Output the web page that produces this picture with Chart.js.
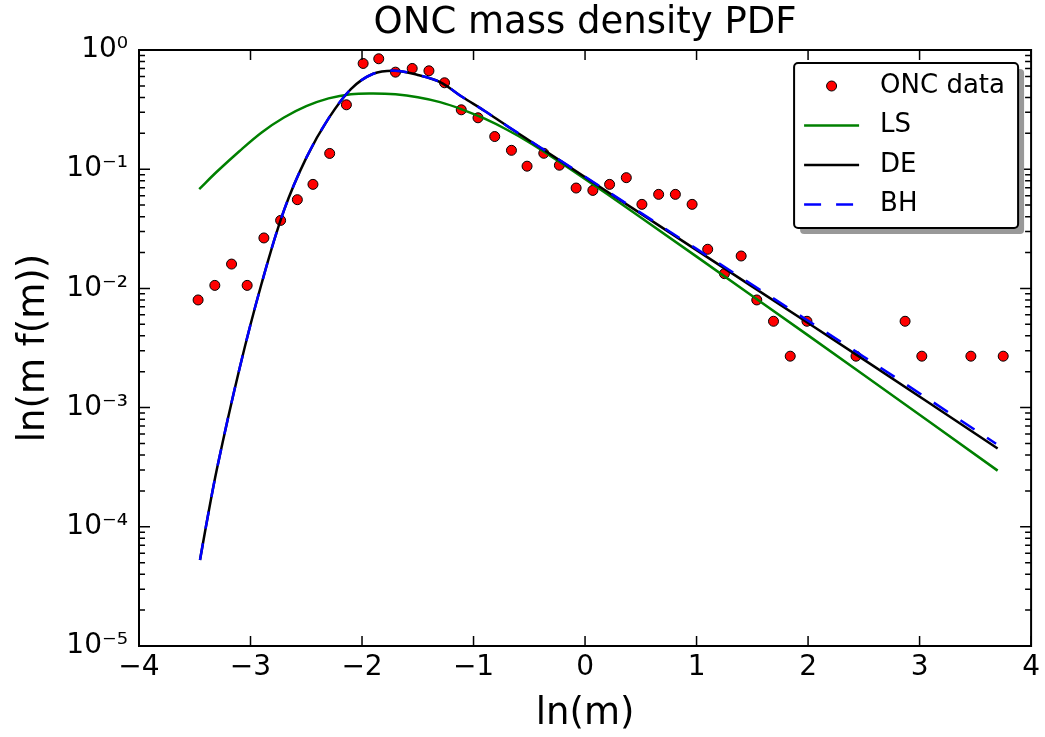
<!DOCTYPE html>
<html>
<head>
<meta charset="utf-8">
<script src="https://cdn.jsdelivr.net/npm/chart.js@4/dist/chart.umd.min.js"></script>
<style>
  body { margin: 0; background: #fff; }
  canvas { display: block; }
</style>
</head>
<body>
<canvas id="chart" width="1045" height="737"></canvas>
<script>
// binned ONC data: ln(m) vs m f(m)
const oncX = [-3.47, -3.32, -3.17, -3.03, -2.88, -2.73, -2.58, -2.44, -2.29, -2.14,
  -1.99, -1.85, -1.70, -1.55, -1.40, -1.26, -1.11, -0.96, -0.81, -0.66,
  -0.52, -0.37, -0.23, -0.08, 0.07, 0.22, 0.37, 0.51, 0.66, 0.81,
  0.96, 1.10, 1.25, 1.40, 1.54, 1.69, 1.84, 1.99, 2.43, 2.87,
  3.02, 3.46, 3.75];
const oncY = [0.0080, 0.0106, 0.0160, 0.0106, 0.0265, 0.0372, 0.0555, 0.0746, 0.1356, 0.347,
  0.771, 0.844, 0.652, 0.700, 0.669, 0.531, 0.315, 0.270, 0.188, 0.144,
  0.106, 0.136, 0.108, 0.0695, 0.0664, 0.0746, 0.0849, 0.0507, 0.0615, 0.0615,
  0.0507, 0.0213, 0.0133, 0.0187, 0.0080, 0.0053, 0.0027, 0.0053, 0.0027, 0.0053,
  0.0027, 0.0027, 0.0027];

// fitted models
const lsX = [-3.46, -3.3, -3.1, -2.9, -2.7, -2.5, -2.3, -2.1, -1.9, -1.7,
  -1.5, -1.3, -1.1, -0.9, -0.7, -0.5, -0.3, -0.1, 0.5, 1.5,
  2.5, 3.7];
const lsY = [0.0681, 0.0956, 0.1416, 0.2034, 0.2713, 0.3380, 0.3928, 0.4261, 0.4319, 0.4244,
  0.4013, 0.3651, 0.3165, 0.2651, 0.2143, 0.1678, 0.1275, 0.0958, 0.0394, 0.00864,
  0.00188, 0.000296];

const deX = [-3.453, -3.4, -3.3, -3.1, -2.9, -2.7, -2.5, -2.3, -2.1, -1.9,
  -1.7, -1.5, -1.3, -1.1, -0.9, -0.7, -0.5, -0.3, -0.1, 0.5,
  1.5, 2.5, 3.7];
const deY = [0.0000526, 0.000100, 0.000310, 0.00210, 0.01104, 0.0451, 0.1244, 0.2666, 0.470, 0.6317,
  0.6708, 0.6172, 0.5376, 0.4030, 0.3080, 0.2306, 0.1743, 0.1315, 0.0990, 0.0424,
  0.01035, 0.002526, 0.000454];

const bhX = [-3.453, -3.4, -3.3, -3.1, -2.9, -2.7, -2.5, -2.3, -2.1, -1.9,
  -1.7, -1.5, -1.3, -1.1, -0.9, -0.7, -0.5, -0.3, -0.1, 0.5,
  1.5, 2.5, 3.686];
const bhY = [0.0000526, 0.000100, 0.000310, 0.00210, 0.01104, 0.0451, 0.1244, 0.2666, 0.470, 0.6317,
  0.6708, 0.6172, 0.5376, 0.4030, 0.3080, 0.2310, 0.1750, 0.1322, 0.0998, 0.0430,
  0.01072, 0.00267, 0.000498];

const xTicks = [-4, -3, -2, -1, 0, 1, 2, 3, 4];
const yDecades = [-5, -4, -3, -2, -1, 0];

const FONT = 'DejaVu Sans';
const SUP = { '-': '\u207B', '0': '\u2070', '1': '\u00B9', '2': '\u00B2', '3': '\u00B3', '4': '\u2074', '5': '\u2075' };

function toPoints(xs, ys) {
  return xs.map((x, i) => ({ x: x, y: ys[i] }));
}

function sup(n) {
  return String(n).split('').map(c => SUP[c]).join('');
}

// frame, inward ticks (matplotlib classic look) and boxed legend
const framePlugin = {
  id: 'frame',
  afterDraw(chart) {
    const { ctx, chartArea: a, scales } = chart;
    ctx.save();
    ctx.strokeStyle = '#000';
    ctx.lineWidth = 1.5;
    ctx.beginPath();
    xTicks.forEach(v => {
      const px = scales.x.getPixelForValue(v);
      ctx.moveTo(px, a.bottom); ctx.lineTo(px, a.bottom - 10);
      ctx.moveTo(px, a.top); ctx.lineTo(px, a.top + 10);
    });
    yDecades.forEach(e => {
      for (let m = 1; m <= 9; m++) {
        const v = m * Math.pow(10, e);
        if (v > 1.0001) break;
        const py = scales.y.getPixelForValue(v);
        const len = m === 1 ? 11 : 6;
        ctx.moveTo(a.left, py); ctx.lineTo(a.left + len, py);
        ctx.moveTo(a.right, py); ctx.lineTo(a.right - len, py);
      }
    });
    ctx.stroke();
    ctx.lineWidth = 2;
    ctx.strokeRect(a.left, a.top, a.right - a.left, a.bottom - a.top);

    // legend box
    const lw = 224, lh = 165;
    const lx = a.right - 13 - lw, ly = a.top + 13;
    ctx.fillStyle = '#999';
    ctx.beginPath();
    ctx.roundRect(lx + 6, ly + 6, lw, lh, 4);
    ctx.fill();
    ctx.fillStyle = '#fff';
    ctx.beginPath();
    ctx.roundRect(lx, ly, lw, lh, 4);
    ctx.fill();
    ctx.lineWidth = 2;
    ctx.stroke();

    ctx.font = '26px "' + FONT + '"';
    ctx.textBaseline = 'middle';
    ctx.textAlign = 'left';
    chart.data.datasets.forEach((ds, i) => {
      const cy = ly + 23 + i * 39.5;
      const x0 = lx + 10, x1 = lx + 65;
      if (!ds.showLine) {
        ctx.beginPath();
        ctx.arc((x0 + x1) / 2, cy, ds.pointRadius, 0, Math.PI * 2);
        ctx.fillStyle = ds.pointBackgroundColor;
        ctx.fill();
        ctx.lineWidth = 1;
        ctx.strokeStyle = ds.pointBorderColor;
        ctx.stroke();
      } else {
        ctx.beginPath();
        ctx.setLineDash(ds.borderDash || []);
        ctx.lineWidth = ds.borderWidth;
        ctx.strokeStyle = ds.borderColor;
        ctx.moveTo(x0, cy); ctx.lineTo(x1, cy);
        ctx.stroke();
        ctx.setLineDash([]);
      }
      ctx.fillStyle = '#000';
      ctx.fillText(ds.label, lx + 86, cy);
    });
    ctx.restore();
  }
};

new Chart(document.getElementById('chart'), {
  type: 'scatter',
  data: {
    datasets: [
      {
        label: 'ONC data',
        data: toPoints(oncX, oncY),
        showLine: false,
        pointRadius: 5,
        pointBackgroundColor: '#ff0000',
        pointBorderColor: '#000000',
        pointBorderWidth: 1,
        order: 3
      },
      {
        label: 'LS',
        data: toPoints(lsX, lsY),
        showLine: true,
        borderColor: '#008000',
        borderWidth: 2.5,
        pointRadius: 0,
        tension: 0.35,
        order: 2
      },
      {
        label: 'DE',
        data: toPoints(deX, deY),
        showLine: true,
        borderColor: '#000000',
        borderWidth: 2.5,
        pointRadius: 0,
        tension: 0.35,
        order: 1
      },
      {
        label: 'BH',
        data: toPoints(bhX, bhY),
        showLine: true,
        borderColor: '#0000ff',
        borderWidth: 2.5,
        borderDash: [17, 15],
        pointRadius: 0,
        tension: 0.35,
        order: 0
      }
    ]
  },
  options: {
    responsive: false,
    animation: false,
    devicePixelRatio: 1,
    layout: { padding: { left: 0, right: 13, top: 0, bottom: 0 } },
    plugins: {
      legend: { display: false },
      tooltip: { enabled: false },
      title: {
        display: true,
        text: 'ONC mass density PDF',
        fullSize: false,
        color: '#000',
        font: { family: FONT, size: 37, weight: 'normal' },
        padding: { top: 1, bottom: 4.6 }
      }
    },
    scales: {
      x: {
        type: 'linear',
        min: -4,
        max: 4,
        afterBuildTicks: s => { s.ticks = xTicks.map(v => ({ value: v })); },
        afterFit: s => { s.height = 91; },
        grid: { display: false, drawTicks: false },
        border: { display: false },
        ticks: {
          padding: 5,
          color: '#000',
          maxRotation: 0,
          autoSkip: false,
          font: { family: FONT, size: 28 },
          callback: v => (v < 0 ? '\u2212' + Math.abs(v) : String(v))
        },
        title: {
          display: true,
          text: 'ln(m)',
          color: '#000',
          font: { family: FONT, size: 37 },
          padding: { top: 0, bottom: 0 }
        }
      },
      y: {
        type: 'logarithmic',
        min: 1e-5,
        max: 1,
        afterBuildTicks: s => { s.ticks = yDecades.map(e => ({ value: Math.pow(10, e) })); },
        afterFit: s => { s.width = 139; },
        grid: { display: false, drawTicks: false },
        border: { display: false },
        ticks: {
          padding: 11,
          color: '#000',
          autoSkip: false,
          font: { family: FONT, size: 28 },
          callback: v => '10' + sup(Math.round(Math.log10(v)))
        },
        title: {
          display: true,
          text: 'ln(m f(m))',
          color: '#000',
          font: { family: FONT, size: 37 },
          padding: { top: 12, bottom: 0 }
        }
      }
    }
  },
  plugins: [framePlugin]
});
</script>
</body>
</html>
